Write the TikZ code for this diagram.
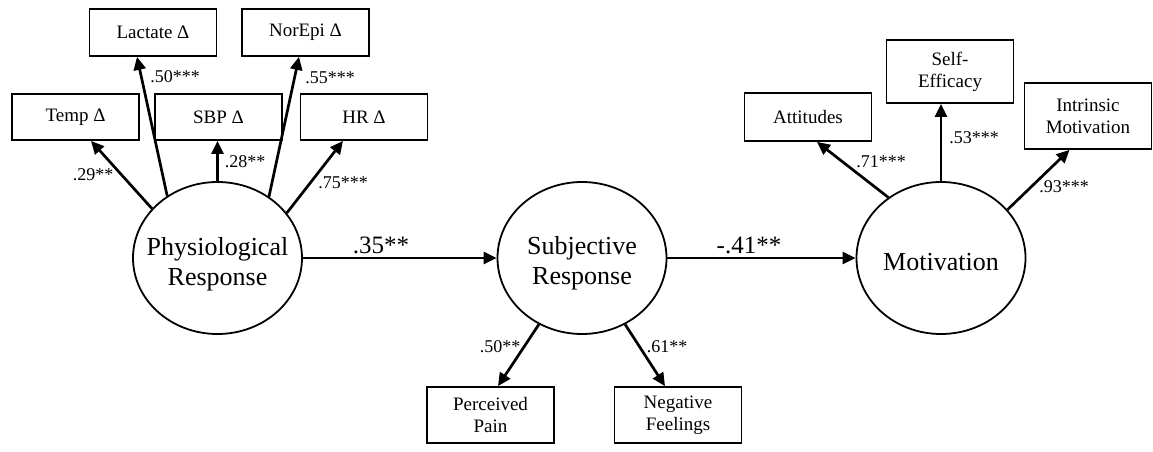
\documentclass[tikz,border=0pt]{standalone}
\usepackage{fontspec}
\setmainfont{Liberation Serif}
\usetikzlibrary{arrows.meta,shapes.geometric,calc}
\begin{document}
\begin{tikzpicture}[x=1pt,y=-1pt,
 box/.style={draw,line width=1.8pt,minimum width=127pt,inner sep=0pt,font=\fontsize{19}{22}\selectfont,align=center},
 lat/.style={draw,ellipse,line width=1.8pt,minimum width=169pt,minimum height=152pt,inner sep=0pt},
 lattext/.style={font=\fontsize{26}{30}\selectfont,align=center},
 coef/.style={font=\fontsize{18}{20}\selectfont,anchor=base},
 bigcoef/.style={font=\fontsize{25}{28}\selectfont,anchor=base},
 arr/.style={line width=2.7pt,-{Triangle[length=13pt,width=12pt]}},
]
\useasboundingbox (0,0) rectangle (1153,452);
% latent variables
\node[lat] (phys) at (217.5,258) {};
\node[lattext] (physT) at ($(phys)+(0,6)$) {Physiological\\Response};
\node[lat] (subj) at (582,258) {};
\node[lattext] (subjT) at ($(subj)+(0,5)$) {Subjective\\Response};
\node[lat] (mot) at (941,258) {};
\node[lattext] (motT) at ($(mot)+(0,4)$) {Motivation};
% indicators
\node[box,minimum height=46pt] (temp) at (75.5,117) {Temp Δ};
\node[box,minimum height=47pt] (lac) at (153,32.5) {Lactate Δ};
\node[box,minimum height=46pt] (sbp) at (218.5,117) {SBP Δ};
\node[box,minimum height=47pt] (nor) at (305.5,32.5) {NorEpi Δ};
\node[box,minimum height=46pt] (hr) at (364,117) {HR Δ};
\node[box,minimum height=56pt] (pain) at (490.5,415) {Perceived\\Pain};
\node[box,minimum height=56pt] (neg) at (678,415) {Negative\\Feelings};
\node[box,minimum height=48pt] (att) at (808,117) {Attitudes};
\node[box,minimum height=63pt] (eff) at (950,71.5) {Self-\\Efficacy};
\node[box,minimum height=66pt] (intr) at (1088,116) {Intrinsic\\Motivation};
% structural paths
\draw[arr] (phys) -- (subj);
\draw[arr] (subj) -- (mot);
% measurement paths
\draw[arr] (phys.143.6) -- ($(temp.south)+(15.5,0)$);
\draw[arr] (phys.129.6) -- ($(lac.south)+(-16,0)$);
\draw[arr] (phys.north) -- (phys.north |- sbp.south);
\draw[arr] (phys.50) -- ($(nor.south)+(-6.5,0)$);
\draw[arr] (phys.33.2) -- ($(hr.south)+(-21,0)$);
\draw[arr] (subj.237.5) -- ($(pain.north)+(7.5,0)$);
\draw[arr] (subj.303.7) -- ($(neg.north)+(-13,0)$);
\draw[arr] (mot.131.7) -- ($(att.south)+(9,0)$);
\draw[arr] (mot.north) -- (mot.north |- eff.south);
\draw[arr] (mot.36.9) -- ($(intr.south)+(-18.5,0)$);
% coefficients
\node[coef] (c1) at (93,180) {.29**};
\node[coef] (c2) at (175,82) {.50***};
\node[coef] (c3) at (245,167) {.28**};
\node[coef] (c4) at (330,83) {.55***};
\node[coef] (c5) at (343,188) {.75***};
\node[bigcoef] (c6) at (381,253) {.35**};
\node[bigcoef] (c7) at (749,253) {-.41**};
\node[coef] (c8) at (500,352) {.50**};
\node[coef] (c9) at (667,352) {.61**};
\node[coef] (c10) at (881,167) {.71***};
\node[coef] (c11) at (974,143) {.53***};
\node[coef] (c12) at (1064,192) {.93***};
\end{tikzpicture}
\end{document}
